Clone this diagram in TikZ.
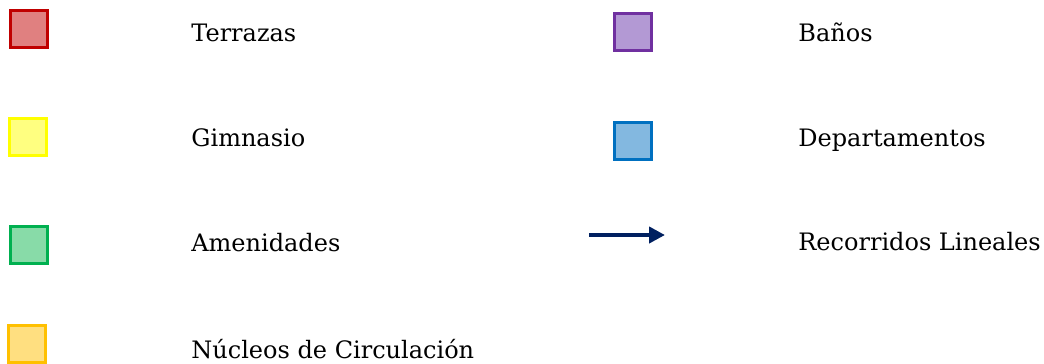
\documentclass[tikz,border=0pt]{standalone}
\usepackage{fontspec}
\setmainfont{DejaVu Serif}
\usepackage{tikz}
\usetikzlibrary{arrows.meta}
\definecolor{terrazaE}{HTML}{C00000}
\definecolor{terrazaF}{HTML}{E08080}
\definecolor{banoE}{HTML}{7030A0}
\definecolor{banoF}{HTML}{B399D4}
\definecolor{gimE}{HTML}{FFFF00}
\definecolor{gimF}{HTML}{FFFF80}
\definecolor{deptoE}{HTML}{0070C0}
\definecolor{deptoF}{HTML}{83B8E0}
\definecolor{amenE}{HTML}{00B050}
\definecolor{amenF}{HTML}{88DBA8}
\definecolor{nucleoE}{HTML}{FFC000}
\definecolor{nucleoF}{HTML}{FFDF80}
\definecolor{recorrido}{HTML}{002060}
\tikzset{
  swatch/.style={rectangle, minimum size=18.5pt, inner sep=0pt, line width=1.5pt},
  lbl/.style   ={anchor=base west, inner sep=0pt, font=\fontsize{12}{14}\selectfont},
  route/.style ={draw=recorrido, line width=2pt,
                 -{Triangle[length=8pt,width=8pt]}},
}
% name / x / y (center of swatch) / colour key / baseline of label / label
\def\leftlist{ter/29/29/terraza/41/Terrazas, gim/28/137/gim/146/Gimnasio,
              amen/29/245/amen/251/Amenidades,
              nuc/27/344/nucleo/358/Núcleos de Circulación}
\def\rightlist{ban/633/32/bano/41/Baños, dep/633/141/depto/146/Departamentos}
\begin{document}
\begin{tikzpicture}[x=0.5pt,y=-0.5pt]
\useasboundingbox (0,0) rectangle (1044,364);
\foreach \n/\x/\y/\c/\b/\t in \leftlist
  {\node[swatch,draw=\c E,fill=\c F] (sw\n) at (\x,\y) {};
   \node[lbl] (lb\n) at (191,\b) {\t};}
\foreach \n/\x/\y/\c/\b/\t in \rightlist
  {\node[swatch,draw=\c E,fill=\c F] (sw\n) at (\x,\y) {};
   \node[lbl] (lb\n) at (798,\b) {\t};}
\coordinate (recA) at (589,235);
\coordinate (recB) at (665,235);
\draw[route] (recA) -- (recB);
\node[lbl] (lbrec) at (798,250) {Recorridos Lineales};
\end{tikzpicture}
\end{document}
